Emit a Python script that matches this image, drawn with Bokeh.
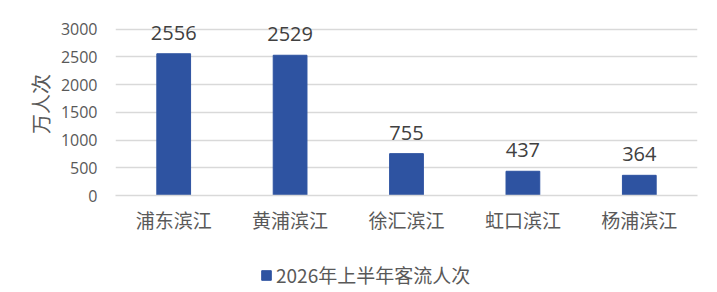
from bokeh.plotting import figure
from bokeh.models import ColumnDataSource, LabelSet, Legend, LegendItem, FixedTicker
from bokeh.core.properties import value
from bokeh.layouts import column
from bokeh.embed import file_html
from bokeh.resources import INLINE

categories = ["浦东滨江", "黄浦滨江", "徐汇滨江", "虹口滨江", "杨浦滨江"]
values = [2556, 2529, 755, 437, 364]
series_name = "2026年上半年客流人次"
y_ticks = [0, 500, 1000, 1500, 2000, 2500, 3000]

BAR = "#2E53A1"
CJK = "Noto Sans CJK SC"
NUM = "Open Sans"

src = ColumnDataSource(dict(cat=categories, val=values, lab=[str(v) for v in values]))

p = figure(width=717, height=250, x_range=categories, y_range=(0, 3300),
           output_backend="svg", toolbar_location=None,
           min_border_left=115, min_border_right=20, min_border_top=12, min_border_bottom=55)
p.outline_line_color = None
p.background_fill_color = "white"

r = p.vbar(x="cat", top="val", width=0.29, source=src, color=BAR)

p.yaxis.ticker = FixedTicker(ticks=y_ticks)
p.yaxis.axis_line_color = None
p.yaxis.major_tick_line_color = None
p.yaxis.minor_tick_line_color = None
p.yaxis.major_label_text_font = NUM
p.yaxis.major_label_text_font_size = "16px"
p.yaxis.major_label_text_color = "#595959"
p.yaxis.major_label_standoff = 12
p.yaxis.axis_label = "万人次"
p.yaxis.axis_label_text_font = CJK
p.yaxis.axis_label_text_font_size = "20px"
p.yaxis.axis_label_text_font_style = "normal"
p.yaxis.axis_label_text_color = "#595959"
p.yaxis.axis_label_standoff = 3

p.xaxis.axis_line_color = "#d9d9d9"
p.xaxis.axis_line_width = 1.5
p.xaxis.major_tick_line_color = None
p.xaxis.minor_tick_line_color = None
p.xaxis.major_label_text_font = CJK
p.xaxis.major_label_text_font_size = "19px"
p.xaxis.major_label_text_color = "#595959"
p.xaxis.major_label_standoff = 4

p.xgrid.grid_line_color = None
p.ygrid.grid_line_color = "#d9d9d9"
p.ygrid.grid_line_width = 1.5

labels = LabelSet(x="cat", y="val", text="lab", source=src, text_align="center",
                  text_baseline="bottom", y_offset=14, text_font=value(NUM),
                  text_font_size="20px", text_color="#404040")
p.add_layout(labels)

# legend strip (the legend's renderer is a hidden copy of the bar series)
pl = figure(width=717, height=42, x_range=categories, output_backend="svg", toolbar_location=None,
            min_border=0, x_axis_location=None, y_axis_location=None)
pl.outline_line_color = None
pl.xgrid.visible = False
pl.ygrid.visible = False
rl = pl.vbar(x="cat", top="val", width=0.29, source=src, color=BAR, visible=False)
legend = Legend(items=[LegendItem(label=series_name, renderers=[rl])],
                location=(145, 4), orientation="horizontal",
                label_text_font=CJK, label_text_font_size="19px", label_text_color="#595959",
                glyph_width=12, glyph_height=12, label_standoff=4, padding=4, margin=0,
                inactive_fill_alpha=0,
                border_line_color=None, background_fill_alpha=0)
pl.add_layout(legend, "center")

open("out.html", "w").write(file_html(column(p, pl, spacing=0), INLINE))
